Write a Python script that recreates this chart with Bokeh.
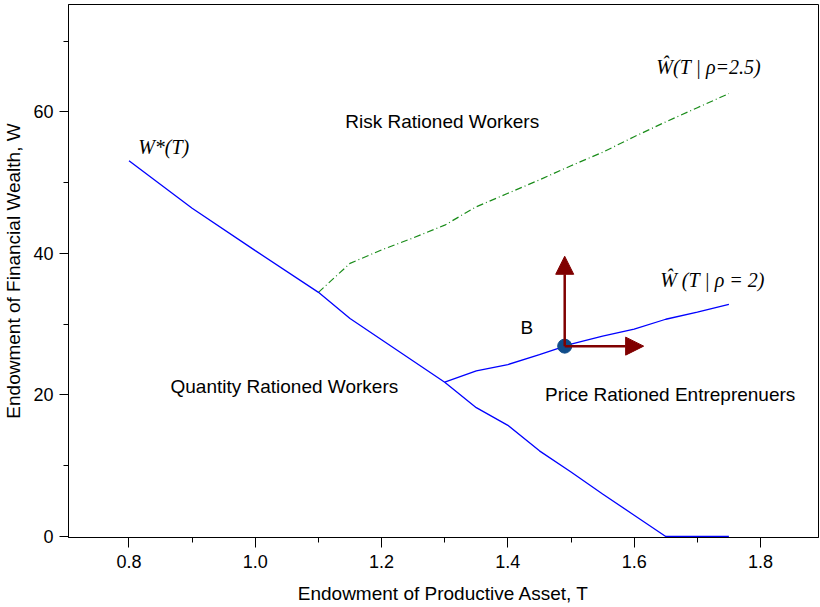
from bokeh.plotting import figure
from bokeh.models import Range1d, Arrow, NormalHead, Label, PrintfTickFormatter, SingleIntervalTicker
from bokeh.embed import file_html
from bokeh.resources import INLINE

# W*(T) boundary
T_star = [0.8, 0.9, 1.0, 1.1, 1.15, 1.2, 1.25, 1.3, 1.35, 1.4, 1.45, 1.5, 1.55, 1.6, 1.65, 1.7, 1.75]
W_star = [53.1, 46.4, 40.4, 34.5, 30.8, 27.8, 24.8, 21.8, 18.2, 15.7, 12.1, 9.1, 6.0, 3.0, 0.0, 0.0, 0.0]

# W-hat(T | rho = 2.5)
T_rho25 = [1.1, 1.15, 1.2, 1.25, 1.3, 1.35, 1.4, 1.45, 1.5, 1.55, 1.6, 1.65, 1.7, 1.75]
W_rho25 = [34.5, 38.6, 40.5, 42.2, 44.0, 46.6, 48.5, 50.4, 52.4, 54.3, 56.5, 58.6, 60.6, 62.6]

# W-hat(T | rho = 2)
T_rho2 = [1.3, 1.35, 1.4, 1.45, 1.5, 1.55, 1.6, 1.65, 1.7, 1.75]
W_rho2 = [21.8, 23.4, 24.3, 25.7, 27.2, 28.3, 29.3, 30.7, 31.7, 32.8]

# point B and arrow tips
B_T = [1.49]
B_W = [26.9]
arrow_up_W = 39.6
arrow_right_T = 1.615

p = figure(width=820, height=607, output_backend="svg", toolbar_location=None,
           x_range=Range1d(0.7042, 1.8919), y_range=Range1d(-0.15, 75.19),
           min_border_left=68, min_border_right=2, min_border_top=4, min_border_bottom=70)

p.xgrid.visible = False
p.ygrid.visible = False
p.outline_line_color = "black"
p.outline_line_width = 1
p.background_fill_color = "white"
p.border_fill_color = "white"

p.xaxis.ticker = SingleIntervalTicker(interval=0.2, num_minor_ticks=2)
p.yaxis.ticker = SingleIntervalTicker(interval=20, num_minor_ticks=2)
p.xaxis.formatter = PrintfTickFormatter(format="%.1f")

for ax in (p.xaxis, p.yaxis):
    ax.axis_line_color = "black"
    ax.major_tick_line_color = "black"
    ax.minor_tick_line_color = "black"
    ax.major_tick_in = 0
    ax.minor_tick_in = 0
    ax.major_label_text_font = "Liberation Sans"
    ax.major_label_text_font_size = "18px"
    ax.major_label_text_color = "black"
    ax.axis_label_text_font = "Liberation Sans"
    ax.axis_label_text_font_size = "19px"
    ax.axis_label_text_font_style = "normal"
    ax.axis_label_text_color = "black"

p.xaxis.major_tick_out = 10
p.xaxis.minor_tick_out = 5
p.yaxis.major_tick_out = 9
p.yaxis.minor_tick_out = 5
p.xaxis.major_label_standoff = 7
p.yaxis.major_label_standoff = 6
p.xaxis.axis_label_standoff = 12
p.yaxis.axis_label_standoff = 6
p.xaxis.axis_label = "Endowment of Productive Asset, T"
p.yaxis.axis_label = "Endowment of Financial Wealth, W"

r1 = p.line(T_star, W_star, line_color="#0000FF", line_width=1.3)
r1.level = "overlay"
p.line(T_rho2, W_rho2, line_color="#0000FF", line_width=1.3)
p.line(T_rho25, W_rho25, line_color="#1A8C1A", line_width=1.2, line_dash="7 3 1 3")

p.scatter(B_T, B_W, size=14, marker="circle", fill_color="#0F4C8A", line_color="#0F4C8A")

red = "#800000"
p.add_layout(Arrow(x_start=B_T[0], y_start=B_W[0], x_end=B_T[0], y_end=arrow_up_W,
                   line_color=red, line_width=2.5,
                   end=NormalHead(size=18, fill_color=red, line_color=red)))
p.add_layout(Arrow(x_start=B_T[0], y_start=B_W[0], x_end=arrow_right_T, y_end=B_W[0],
                   line_color=red, line_width=2.5,
                   end=NormalHead(size=18, fill_color=red, line_color=red)))

def sans(x, y, t, size="19px"):
    p.add_layout(Label(x=x, y=y, text=t, text_font="Liberation Sans", text_font_size=size,
                       text_align="center", text_baseline="middle", text_color="black"))

def serif(x, y, t, size="20px"):
    p.add_layout(Label(x=x, y=y, text=t, text_font="Liberation Serif", text_font_size=size,
                       text_font_style="italic",
                       text_align="center", text_baseline="middle", text_color="black"))

sans(1.296, 58.6, "Risk Rationed Workers")
sans(1.046, 21.2, "Quantity Rationed Workers")
sans(1.657, 20.1, "Price Rationed Entreprenuers")
sans(1.430, 29.5, "B")
serif(0.855, 55.0, "W*(T)")
serif(1.718, 66.4, "Ŵ(T | ρ=2.5)")
serif(1.724, 36.2, "Ŵ (T | ρ = 2)")

open("out.html", "w").write(file_html(p, INLINE))
